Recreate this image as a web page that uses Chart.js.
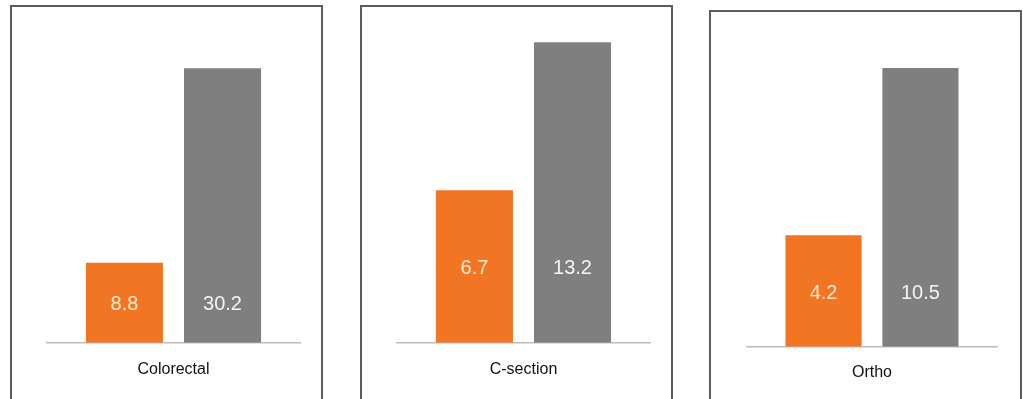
<!DOCTYPE html>
<html>
<head>
<meta charset="utf-8">
<script src="https://cdn.jsdelivr.net/npm/chart.js@4"></script>
<style>
  html, body { margin: 0; padding: 0; background: #fff; overflow: hidden; }
  body { width: 1025px; height: 399px; position: relative; }
  .panel { position: absolute; border: 2px solid #5c5c5c; box-sizing: border-box; width: 313px; height: 420px; }
  .wrap { position: absolute; width: 309px; }
</style>
</head>
<body>
<div class="panel" style="left:10px;top:5px"></div>
<div class="panel" style="left:360px;top:5px"></div>
<div class="panel" style="left:709px;top:10px"></div>
<div class="wrap" style="left:12px;top:7px;height:392px"><canvas id="c0"></canvas></div>
<div class="wrap" style="left:362px;top:7px;height:392px"><canvas id="c1"></canvas></div>
<div class="wrap" style="left:711px;top:12px;height:387px"><canvas id="c2"></canvas></div>
<script>
// data
const categories = ['Colorectal', 'C-section', 'Ortho'];
const orangeValues = [8.8, 6.7, 4.2];
const grayValues = [30.2, 13.2, 10.5];
const axisMax = [33.3, 13.3, 11.55];

const ORANGE = '#F17522';
const GRAY = '#7F7F7F';

// value labels sit at the middle height of the orange bar, for both bars
const valueLabels = {
  id: 'valueLabels',
  afterDatasetsDraw(chart) {
    const ctx = chart.ctx;
    const first = chart.getDatasetMeta(0).data[0];
    const yMid = (first.y + first.base) / 2 + 2;
    ctx.save();
    ctx.font = '20px "Liberation Sans", Arial, sans-serif';
    ctx.textAlign = 'center';
    ctx.textBaseline = 'middle';
    chart.data.datasets.forEach((ds, i) => {
      const bar = chart.getDatasetMeta(i).data[0];
      ctx.fillStyle = i === 0 ? '#FCEBD2' : '#F4F4F4';
      ctx.fillText(ds.data[0].toFixed(1), bar.x, yMid);
    });
    ctx.restore();
  }
};

const pads = [
  { top: 33, bottom: 3, left: 35, right: 21, tick: 17 },
  { top: 33, bottom: 3, left: 35, right: 21, tick: 17 },
  { top: 28, bottom: 1, left: 36, right: 23, tick: 16 }
];

categories.forEach((cat, i) => {
  new Chart(document.getElementById('c' + i), {
    type: 'bar',
    data: {
      labels: [cat],
      datasets: [
        { data: [orangeValues[i]], backgroundColor: ORANGE },
        { data: [grayValues[i]], backgroundColor: GRAY }
      ]
    },
    options: {
      responsive: true,
      maintainAspectRatio: false,
      animation: false,
      categoryPercentage: 0.775,
      barPercentage: 0.786,
      layout: { padding: { top: pads[i].top, bottom: pads[i].bottom, left: pads[i].left, right: pads[i].right } },
      plugins: { legend: { display: false }, tooltip: { enabled: false } },
      scales: {
        x: {
          grid: { display: false, drawTicks: false, tickLength: 0 },
          border: { display: true, color: '#BDBDBD', width: 1.5 },
          ticks: {
            padding: pads[i].tick,
            color: '#111',
            font: { family: '"Liberation Sans", Arial, sans-serif', size: 16 }
          }
        },
        y: { display: false, min: 0, max: axisMax[i] }
      }
    },
    plugins: [valueLabels]
  });
});
</script>
</body>
</html>
